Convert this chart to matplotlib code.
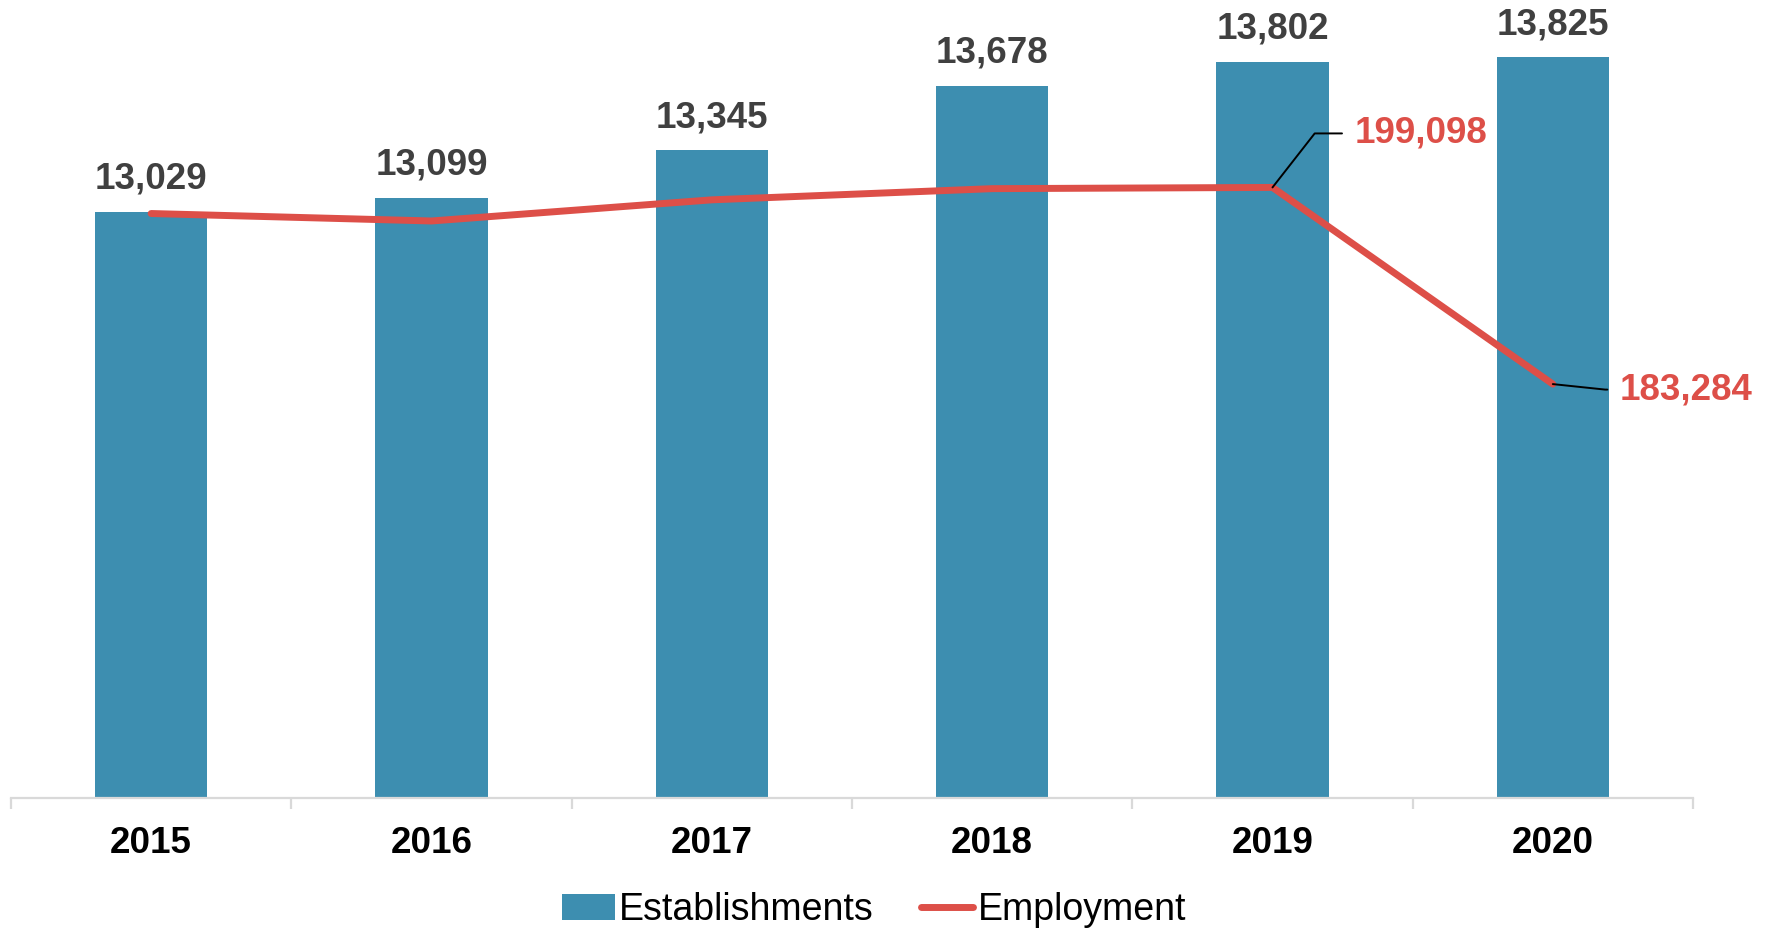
"""
Establishments (bars) and employment (line) by year
"""

import matplotlib.pyplot as plt
from matplotlib.patches import Patch
from matplotlib.lines import Line2D

# ---------------------------------------------------------------------------- #
# Data
# ---------------------------------------------------------------------------- #
years = ['2015', '2016', '2017', '2018', '2019', '2020']
establishments = [13029, 13099, 13345, 13678, 13802, 13825]
employment = [197000, 196400, 198100, 199000, 199098, 183284]
labelled_employment = [4, 5]  # indices of the employment points that get a label

bar_colour = '#3d8eb0'
line_colour = '#dd4f48'
label_grey = '#404040'

plt.rcParams['font.family'] = ['Liberation Sans', 'DejaVu Sans']
fs = 26.5

fig = plt.figure(figsize=(17.7, 9.3), dpi=100)
ax = fig.add_axes([0.0062, 0.1419, 0.9503, 0.8291])
ax2 = ax.twinx()

x = list(range(len(years)))

# ---------------------------------------------------------------------------- #
# Bars
# ---------------------------------------------------------------------------- #
bars = ax.bar(x, establishments, width=0.4, color=bar_colour, zorder=2)
ax.bar_label(bars, labels=[f'{v:,}' for v in establishments], padding=11,
             fontsize=fs, fontweight='bold', color=label_grey)
ax.set_ylim(10000, 13982)
ax.set_xlim(-0.5, len(years) - 0.5)

# ---------------------------------------------------------------------------- #
# Line on secondary axis
# ---------------------------------------------------------------------------- #
ax2.plot(x, employment, color=line_colour, lw=5, solid_capstyle='round',
         solid_joinstyle='miter', zorder=3)
ax2.set_ylim(150000, 212000)

offsets = {4: (82, 54), 5: (67, -5.5)}
angles = {4: 52, 5: -6}
for i in labelled_employment:
    ax2.annotate(f'{employment[i]:,}', xy=(x[i], employment[i]),
                 xytext=offsets[i], textcoords='offset pixels',
                 ha='left', va='center', fontsize=fs, fontweight='bold',
                 color=line_colour,
                 arrowprops=dict(arrowstyle='-', color='black', lw=1.4,
                                 relpos=(0, 0.5), shrinkA=7, shrinkB=0,
                                 connectionstyle=f'angle,angleA=0,angleB={angles[i]},rad=0'))

# ---------------------------------------------------------------------------- #
# Axes styling
# ---------------------------------------------------------------------------- #
for a in (ax, ax2):
    for side in ('left', 'right', 'top'):
        a.spines[side].set_visible(False)
ax2.spines['bottom'].set_visible(False)
ax2.set_yticks([])
ax.set_yticks([])

ax.spines['bottom'].set_color('#d9d9d9')
ax.spines['bottom'].set_linewidth(1.6)

ax.set_xticks(x)
ax.set_xticklabels(years, fontsize=fs, fontweight='bold', color='black')
ax.tick_params(axis='x', which='major', length=0, pad=20)
ax.set_xticks([i - 0.5 for i in range(len(years) + 1)], minor=True)
ax.tick_params(axis='x', which='minor', length=8, width=1.6, color='#d9d9d9')

# ---------------------------------------------------------------------------- #
# Legend
# ---------------------------------------------------------------------------- #
handles = [Patch(facecolor=bar_colour, label='Establishments'),
           Line2D([], [], color=line_colour, lw=5, solid_capstyle='round',
                  label='Employment')]
fig.legend(handles=handles, loc='center', bbox_to_anchor=(0.494, 0.021),
           ncol=2, frameon=False, fontsize=27, handlelength=1.4,
           handleheight=0.7, handletextpad=0.12, columnspacing=1.25)

fig.savefig('out.png', dpi=100)
plt.close()
